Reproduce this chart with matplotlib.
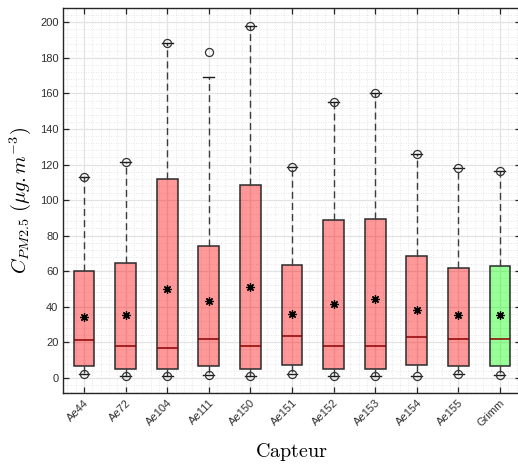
import matplotlib
matplotlib.use("Agg")
import matplotlib.pyplot as plt
from matplotlib.ticker import AutoMinorLocator, MultipleLocator

# ── Data ──────────────────────────────────────
labels  = ["Ae44", "Ae72", "Ae104", "Ae111", "Ae150", "Ae151",
           "Ae152", "Ae153", "Ae154", "Ae155", "Grimm"]
q1      = [6.8, 4.9, 4.7, 6.8, 4.9, 7.1, 4.9, 4.9, 7.1, 6.8, 6.6]
medians = [21.2, 17.7, 16.5, 21.8, 17.7, 23.3, 17.7, 18.0, 23.1, 21.9, 21.8]
q3      = [60.0, 64.4, 111.8, 74.3, 108.4, 63.3, 88.7, 89.1, 68.3, 61.7, 63.0]
means   = [34.0, 35.3, 49.9, 43.3, 50.9, 36.0, 41.7, 44.5, 38.1, 35.3, 35.3]
whis_hi = [113.1, 121.2, 188.2, 169.4, 197.9, 118.4, 155.0, 160.2, 125.7, 118.2, 116.1]
vmax    = [113.1, 121.2, 188.2, 183.5, 197.9, 118.4, 155.0, 160.2, 125.7, 118.2, 116.1]
vmin    = [2.0, 1.1, 1.0, 1.5, 1.0, 2.0, 1.0, 1.0, 1.1, 2.0, 1.8]

RED   = (1.0, 0.0, 0.0, 0.4)
GREEN = (0.0, 1.0, 0.0, 0.4)
box_colors = [RED] * 10 + [GREEN]

plt.rcParams["font.family"] = ["Liberation Sans", "DejaVu Sans"]
plt.rcParams["mathtext.fontset"] = "cm"

fig = plt.figure(figsize=(5.18, 4.65), dpi=100)
ax = fig.add_axes([0.1222, 0.1555, 0.883, 0.827])

stats = []
for i in range(len(labels)):
    stats.append({
        "label": labels[i], "med": medians[i], "q1": q1[i], "q3": q3[i],
        "whislo": vmin[i], "whishi": whis_hi[i], "mean": means[i], "fliers": [],
    })

pos = list(range(1, len(labels) + 1))
bp = ax.bxp(stats, positions=pos, widths=0.5, patch_artist=True,
            showmeans=True, showfliers=False,
            boxprops=dict(edgecolor="#2b2b2b", linewidth=1.1),
            medianprops=dict(color="#8b0000", linewidth=1.1),
            whiskerprops=dict(color="#3c3c3c", linewidth=1.0, linestyle=(0, (5, 3))),
            capprops=dict(color="#1a1a1a", linewidth=1.0),
            capwidths=0.26,
            meanprops=dict(marker=(8, 2, 0), markeredgecolor="black",
                           markerfacecolor="black", markersize=6,
                           markeredgewidth=0.9),
            zorder=3)
for patch, c in zip(bp["boxes"], box_colors):
    patch.set_facecolor(c)

# min / max markers
for vals in (vmax, vmin):
    ax.plot(pos, vals, linestyle="none", marker="o", markersize=5.8,
            markerfacecolor="none", markeredgecolor="#333333",
            markeredgewidth=0.9, zorder=4)

ax.set_xlim(0.5, 11.5)
ax.set_ylim(-8.4, 208)
ax.yaxis.set_major_locator(MultipleLocator(20))
ax.yaxis.set_minor_locator(AutoMinorLocator(5))
ax.xaxis.set_minor_locator(AutoMinorLocator(5))
ax.set_xticks(pos)
ax.set_xticklabels(labels, rotation=45, ha="right", rotation_mode="anchor")

ax.grid(which="major", color="#e3e3e3", linewidth=0.9, linestyle="-", zorder=0)
ax.grid(which="minor", color="#dedede", linewidth=0.6, linestyle=(0, (1, 2)), zorder=0)
ax.set_axisbelow(True)

ax.tick_params(which="both", direction="in", top=True, right=True,
               labelsize=8, color="#262626", labelcolor="#303030")
ax.tick_params(which="major", length=4, width=0.9)
ax.tick_params(which="minor", length=0)
for s in ax.spines.values():
    s.set_color("#262626")
    s.set_linewidth(1.0)

ax.set_ylabel(r"$C_{PM2.5}\ (\mu g.m^{-3})$", fontsize=14.5, labelpad=5)
ax.set_xlabel(r"$\mathrm{Capteur}$", fontsize=14.5, labelpad=9)

fig.savefig("out.png", dpi=100)
